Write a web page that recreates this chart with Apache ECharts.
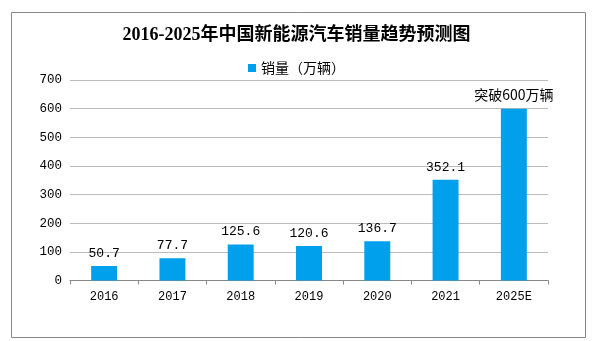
<!DOCTYPE html>
<html><head><meta charset="utf-8">
<script src="https://cdn.jsdelivr.net/npm/echarts@6/dist/echarts.min.js"></script>
<style>html,body{margin:0;padding:0;background:#fff}#c{width:593px;height:341px}</style>
</head><body><div id="c"></div>
<script>
const categories = ['2016','2017','2018','2019','2020','2021','2025E'];
const sales = [50.7, 77.7, 125.6, 120.6, 136.7, 352.1, 600];
const valueLabels = ['50.7','77.7','125.6','120.6','136.7','352.1','突破600万辆'];
const yTicks = [0,100,200,300,400,500,600,700];

const seriesData = sales.map((v, i) => {
  const isCjk = /[\u4e00-\u9fff]/.test(valueLabels[i]);
  return isCjk ? {value: v, label: {fontSize: 14, distance: 7, fontFamily: '"Noto Sans CJK SC"'}} : v;
});

const chart = echarts.init(document.getElementById('c'));
chart.setOption({
  animation: false,
  backgroundColor: '#fff',
  graphic: [{
    type: 'rect', left: 9, top: 10, shape: {width: 574, height: 325},
    style: {fill: 'none', stroke: '#888', lineWidth: 1}, silent: true
  }],
  title: {
    text: '2016-2025年中国新能源汽车销量趋势预测图',
    left: 'center', top: 21,
    textStyle: {fontSize: 18, fontWeight: 'bold', color: '#000', fontFamily: '"Liberation Serif","Noto Sans CJK SC"'}
  },
  legend: {
    top: 56, left: 'center',
    itemWidth: 8, itemHeight: 8, itemGap: 4,
    icon: 'rect',
    textStyle: {fontSize: 14, color: '#000', fontFamily: '"Noto Sans CJK SC"'},
    data: ['销量（万辆）']
  },
  grid: {left: 70, right: 45, top: 80, bottom: 60.5},
  xAxis: {
    type: 'category', data: categories,
    axisLine: {lineStyle: {color: '#888'}},
    axisTick: {show: true, length: 4, lineStyle: {color: '#888'}},
    axisLabel: {color: '#000', fontSize: 12, margin: 10, fontFamily: '"Liberation Mono","DejaVu Sans Mono"'}
  },
  yAxis: {
    type: 'value', min: 0, max: 700, interval: 100,
    axisLine: {show: false}, axisTick: {show: false},
    splitLine: {lineStyle: {color: '#bbb'}},
    axisLabel: {color: '#000', fontSize: 12.5, margin: 8, fontFamily: '"Liberation Mono","DejaVu Sans Mono"',
      formatter: v => yTicks.includes(v) ? String(v) : ''}
  },
  series: [{
    name: '销量（万辆）', type: 'bar', data: seriesData, barWidth: '38%',
    itemStyle: {color: '#00A0EC'},
    label: {
      show: true, position: 'top', distance: 6, color: '#000', fontSize: 13,
      fontFamily: '"Liberation Mono","Noto Sans CJK SC"',
      formatter: p => valueLabels[p.dataIndex]
    }
  }]
});
</script></body></html>
